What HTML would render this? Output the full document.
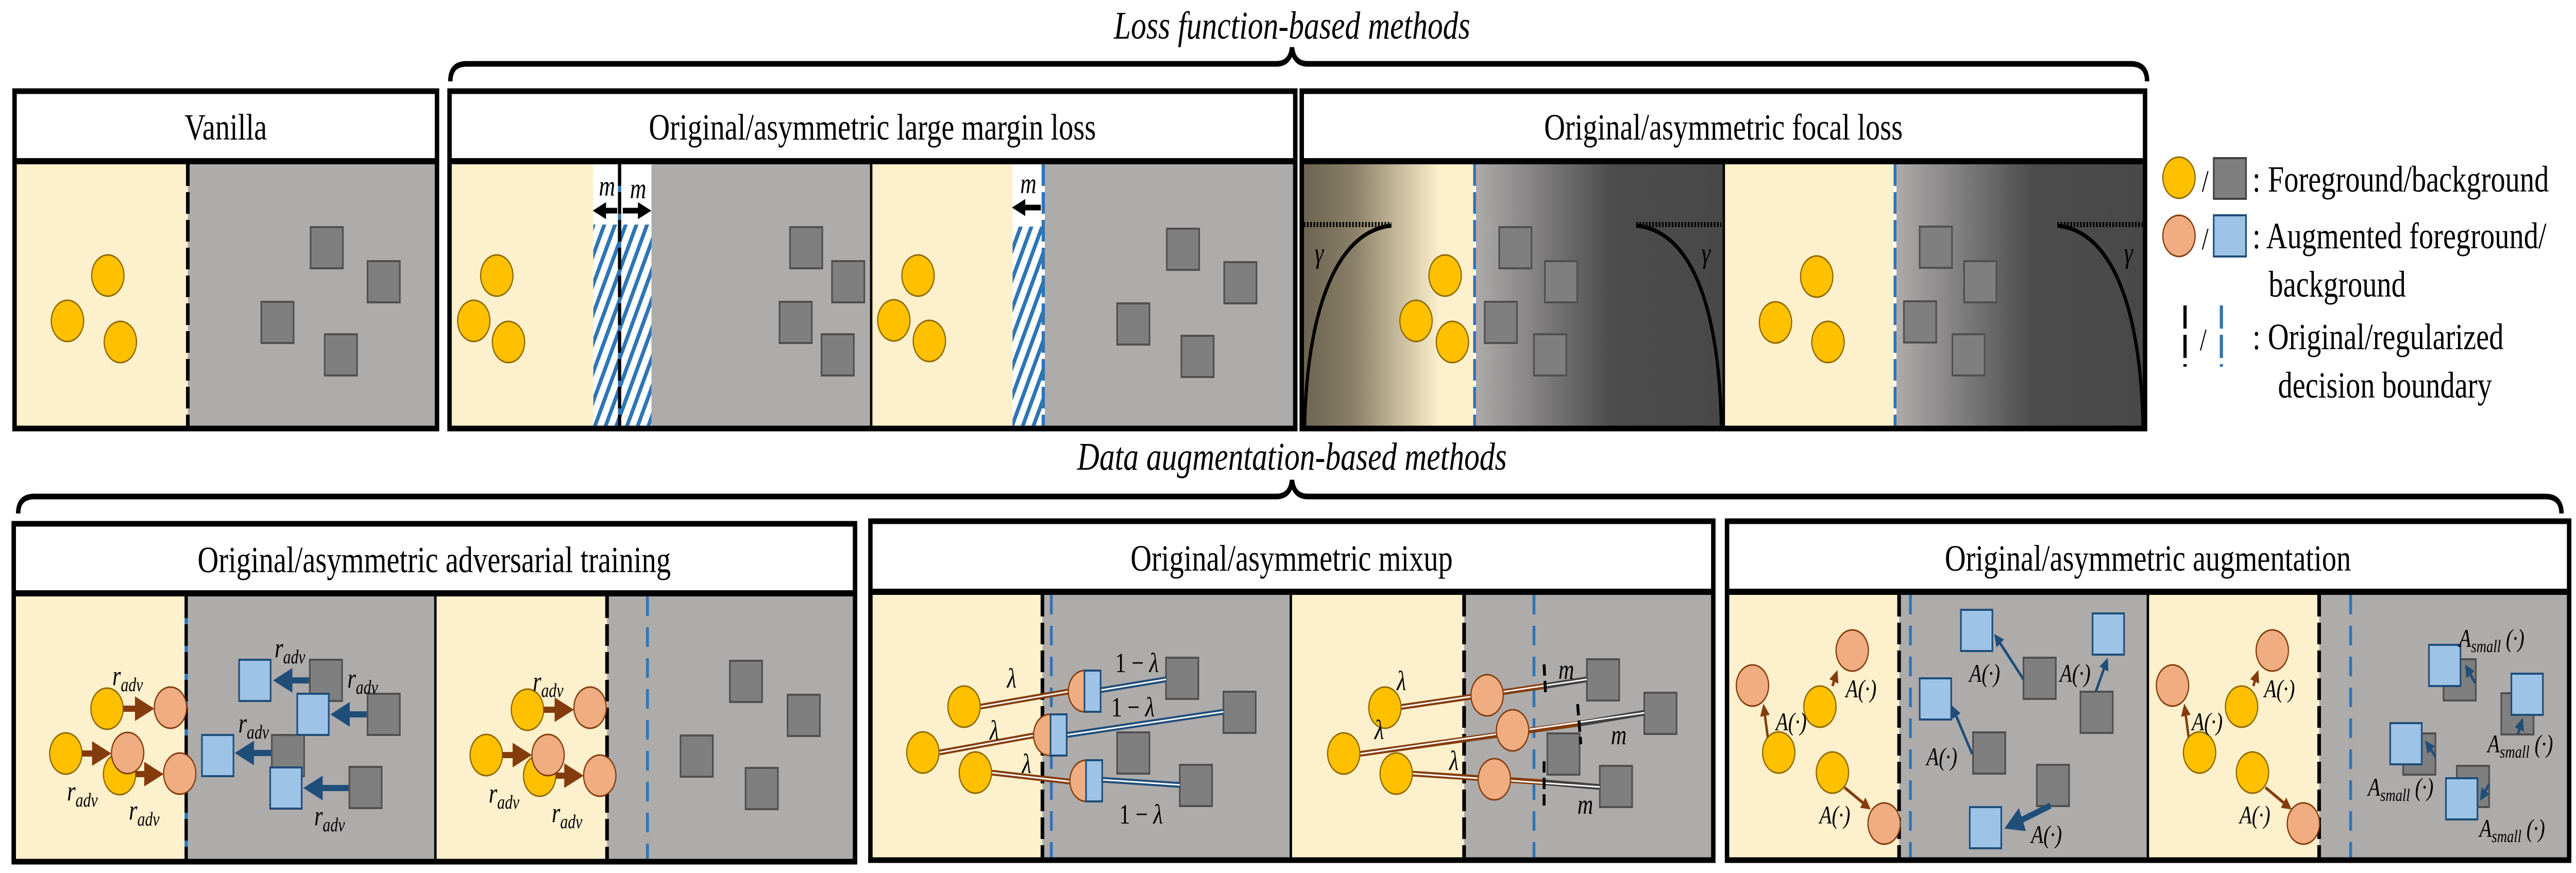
<!DOCTYPE html>
<html><head><meta charset="utf-8"><style>
html,body{margin:0;padding:0;background:#fff;overflow:hidden;width:100vw;height:100vh}
svg{display:block;width:100vw;height:100vh}
text{font-family:"Liberation Serif",serif}
</style></head><body>
<svg viewBox="0 0 6378 1695" preserveAspectRatio="none" xmlns="http://www.w3.org/2000/svg">
<defs>
<pattern id="hatch" patternUnits="userSpaceOnUse" width="24" height="24" patternTransform="rotate(25)">
<rect width="24" height="24" fill="#fff"/><rect x="0" y="0" width="9" height="24" fill="#2e75b6"/>
</pattern>
<linearGradient id="gY" x1="0" x2="1"><stop offset="0" stop-color="#6b6350"/><stop offset="0.3" stop-color="#8a8068"/><stop offset="0.8" stop-color="#fdf0cc"/><stop offset="1" stop-color="#fdf0cc"/></linearGradient>
<linearGradient id="gG" x1="0" x2="1"><stop offset="0" stop-color="#aeabab"/><stop offset="0.55" stop-color="#4c4c4c"/><stop offset="1" stop-color="#484848"/></linearGradient>
<marker id="ab" markerWidth="4" markerHeight="4" refX="2" refY="2" orient="auto" markerUnits="strokeWidth"><path d="M0,0 L4,2 L0,4 z" fill="#843c0c"/></marker>
<marker id="au" markerWidth="4" markerHeight="4" refX="2" refY="2" orient="auto" markerUnits="strokeWidth"><path d="M0,0 L4,2 L0,4 z" fill="#1f4e79"/></marker>
<marker id="ak" markerWidth="3" markerHeight="3" refX="1.5" refY="1.5" orient="auto" markerUnits="strokeWidth"><path d="M0,0 L3,1.5 L0,3 z" fill="#000"/></marker>
<g id="Y"><circle r="40" fill="#ffc000" stroke="#8f6a00" stroke-width="3"/></g>
<g id="P"><circle r="40" fill="#f0ad82" stroke="#843c0c" stroke-width="3"/></g>
<g id="S"><rect width="80" height="80" fill="#7f7f7f" stroke="#505050" stroke-width="4"/></g>
<g id="B"><rect width="78" height="80" fill="#9dc3e6" stroke="#1f4e79" stroke-width="4"/></g>
</defs>

<text x="3199" y="75" font-size="76" font-style="italic" text-anchor="middle">Loss  function-based methods</text>
<path d="M1115,158 Q1115,124 1155,124 L3160,124 Q3195,124 3199,92 Q3203,124 3238,124 L5276,124 Q5316,124 5316,158" fill="none" stroke="#000" stroke-width="11"/>

<rect x="36" y="319" width="429" height="513" fill="#fdf0cc"/>
<rect x="465" y="319" width="617" height="513" fill="#aeabab"/>
<line x1="465" y1="319" x2="465" y2="832" stroke="#000" stroke-width="9" stroke-dasharray="42 12"/>
<use href="#Y" x="267" y="535"/><use href="#Y" x="167" y="623"/><use href="#Y" x="298" y="664"/>
<use href="#S" x="769" y="441"/><use href="#S" x="910" y="507"/><use href="#S" x="647" y="586"/><use href="#S" x="804" y="649"/>
<rect x="36" y="177" width="1046" height="655" fill="none" stroke="#000" stroke-width="11"/>
<line x1="36" y1="313" x2="1082" y2="313" stroke="#000" stroke-width="12"/>
<text x="559" y="271" font-size="72" text-anchor="middle">Vanilla</text>

<rect x="1113" y="319" width="356" height="513" fill="#fdf0cc"/>
<rect x="1469" y="436" width="144" height="396" fill="url(#hatch)"/>
<rect x="1469" y="319" width="144" height="117" fill="#fff"/>
<rect x="1613" y="319" width="544" height="513" fill="#aeabab"/>
<line x1="1534" y1="319" x2="1534" y2="832" stroke="#2e75b6" stroke-width="8"/>
<line x1="1534" y1="319" x2="1534" y2="832" stroke="#000" stroke-width="8" stroke-dasharray="42 12"/>
<rect x="2157" y="319" width="350" height="513" fill="#fdf0cc"/>
<rect x="2507" y="440" width="76" height="392" fill="url(#hatch)"/>
<rect x="2507" y="319" width="76" height="121" fill="#fff"/>
<rect x="2583" y="319" width="624" height="513" fill="#aeabab"/>
<line x1="2583" y1="319" x2="2583" y2="832" stroke="#2e75b6" stroke-width="8"/>
<line x1="2583" y1="319" x2="2583" y2="832" stroke="#fff" stroke-width="8" stroke-dasharray="0 42 12 0"/>
<line x1="2157" y1="319" x2="2157" y2="832" stroke="#000" stroke-width="6"/>
<text x="1503" y="380" font-size="56" font-style="italic" text-anchor="middle">m</text>
<text x="1580" y="385" font-size="56" font-style="italic" text-anchor="middle">m</text>
<line x1="1528" y1="409" x2="1484" y2="409" stroke="#000" stroke-width="11" marker-end="url(#ak)"/>
<line x1="1542" y1="409" x2="1596" y2="409" stroke="#000" stroke-width="11" marker-end="url(#ak)"/>
<text x="2546" y="375" font-size="56" font-style="italic" text-anchor="middle">m</text>
<line x1="2577" y1="403" x2="2522" y2="403" stroke="#000" stroke-width="11" marker-end="url(#ak)"/>
<use href="#Y" x="1230" y="535"/><use href="#Y" x="1173" y="623"/><use href="#Y" x="1259" y="664"/>
<use href="#S" x="1956" y="441"/><use href="#S" x="2060" y="507"/><use href="#S" x="1930" y="586"/><use href="#S" x="2034" y="649"/>
<use href="#Y" x="2273" y="535"/><use href="#Y" x="2213" y="622"/><use href="#Y" x="2301" y="662"/>
<use href="#S" x="2889" y="444"/><use href="#S" x="3031" y="509"/><use href="#S" x="2766" y="589"/><use href="#S" x="2925" y="652"/>
<rect x="1113" y="177" width="2094" height="655" fill="none" stroke="#000" stroke-width="11"/>
<line x1="1113" y1="313" x2="3207" y2="313" stroke="#000" stroke-width="12"/>
<text x="2160" y="271" font-size="72" text-anchor="middle">Original/asymmetric large margin loss</text>

<rect x="3223" y="319" width="428" height="513" fill="url(#gY)"/>
<rect x="3651" y="319" width="617" height="513" fill="url(#gG)"/>
<rect x="4268" y="319" width="424" height="513" fill="#fdf0cc"/>
<rect x="4692" y="319" width="619" height="513" fill="url(#gG)"/>
<line x1="3651" y1="319" x2="3651" y2="832" stroke="#2e75b6" stroke-width="7"/>
<line x1="3651" y1="319" x2="3651" y2="832" stroke="#fff" stroke-width="7" stroke-dasharray="0 42 12 0"/>
<line x1="4692" y1="319" x2="4692" y2="832" stroke="#2e75b6" stroke-width="7"/>
<line x1="4692" y1="319" x2="4692" y2="832" stroke="#fff" stroke-width="7" stroke-dasharray="0 42 12 0"/>
<line x1="4268" y1="319" x2="4268" y2="832" stroke="#000" stroke-width="6"/>
<g fill="none" stroke="#000">
<line x1="3228" y1="436" x2="3445" y2="436" stroke-width="10" stroke-dasharray="4 4"/>
<path d="M3445,438 C3300,450 3235,620 3230,832" stroke-width="8"/>
<line x1="4051" y1="436" x2="4262" y2="436" stroke-width="10" stroke-dasharray="4 4"/>
<path d="M4051,438 C4200,450 4258,620 4262,832" stroke-width="8"/>
<line x1="5094" y1="436" x2="5305" y2="436" stroke-width="10" stroke-dasharray="4 4"/>
<path d="M5094,438 C5240,450 5302,620 5306,832" stroke-width="8"/>
</g>
<text x="3266" y="510" font-size="56" font-style="italic" text-anchor="middle">γ</text>
<text x="4224" y="510" font-size="56" font-style="italic" text-anchor="middle">γ</text>
<text x="5270" y="510" font-size="56" font-style="italic" text-anchor="middle">γ</text>
<use href="#Y" x="3578" y="535"/><use href="#Y" x="3506" y="623"/><use href="#Y" x="3596" y="664"/>
<use href="#S" x="3712" y="441"/><use href="#S" x="3825" y="507"/><use href="#S" x="3676" y="586"/><use href="#S" x="3798" y="649"/>
<use href="#Y" x="4498" y="537"/><use href="#Y" x="4396" y="626"/><use href="#Y" x="4526" y="664"/>
<use href="#S" x="4753" y="440"/><use href="#S" x="4863" y="507"/><use href="#S" x="4714" y="585"/><use href="#S" x="4834" y="649"/>
<rect x="3223" y="177" width="2088" height="655" fill="none" stroke="#000" stroke-width="11"/>
<line x1="3223" y1="313" x2="5311" y2="313" stroke="#000" stroke-width="12"/>
<text x="4267" y="271" font-size="72" text-anchor="middle">Original/asymmetric focal loss</text>

<use href="#Y" x="5395" y="345"/>
<text x="5460" y="372" font-size="60" text-anchor="middle">/</text>
<rect x="5481" y="307" width="80" height="79" fill="#7f7f7f" stroke="#404040" stroke-width="4"/>
<text x="5577" y="372" font-size="72">: Foreground/background</text>
<use href="#P" x="5395" y="458"/>
<text x="5460" y="484" font-size="60" text-anchor="middle">/</text>
<rect x="5481" y="418" width="80" height="80" fill="#9dc3e6" stroke="#1f4e79" stroke-width="4"/>
<text x="5577" y="482" font-size="72">: Augmented foreground/</text>
<text x="5617" y="576" font-size="72">background</text>
<line x1="5410" y1="593" x2="5410" y2="712" stroke="#000" stroke-width="8" stroke-dasharray="45 12"/>
<text x="5455" y="680" font-size="60" text-anchor="middle">/</text>
<line x1="5500" y1="593" x2="5500" y2="712" stroke="#2e75b6" stroke-width="8" stroke-dasharray="45 12"/>
<text x="5577" y="678" font-size="72">: Original/regularized</text>
<text x="5640" y="772" font-size="72">decision boundary</text>

<text x="3199" y="912" font-size="76" font-style="italic" text-anchor="middle">Data augmentation-based methods</text>
<path d="M45,997 Q45,964 85,964 L3160,964 Q3195,964 3199,932 Q3203,964 3238,964 L6302,964 Q6342,964 6342,997" fill="none" stroke="#000" stroke-width="11"/>

<rect x="34" y="1158" width="425" height="515" fill="#fdf0cc"/>
<rect x="463" y="1158" width="615" height="515" fill="#aeabab"/>
<line x1="461" y1="1158" x2="461" y2="1673" stroke="#2e75b6" stroke-width="8"/>
<line x1="461" y1="1158" x2="461" y2="1673" stroke="#000" stroke-width="8" stroke-dasharray="42 12"/>
<rect x="1078" y="1158" width="425" height="515" fill="#fdf0cc"/>
<rect x="1503" y="1158" width="614" height="515" fill="#aeabab"/>
<line x1="1503" y1="1158" x2="1503" y2="1673" stroke="#000" stroke-width="9" stroke-dasharray="42 12"/>
<line x1="1603" y1="1158" x2="1603" y2="1673" stroke="#2e75b6" stroke-width="7" stroke-dasharray="38 22"/>
<line x1="1078" y1="1158" x2="1078" y2="1673" stroke="#000" stroke-width="6"/>
<use href="#S" x="767" y="1281"/><use href="#S" x="910" y="1347"/><use href="#S" x="673" y="1427"/><use href="#S" x="865" y="1489"/>
<use href="#B" x="592" y="1281"/><use href="#B" x="736" y="1347"/><use href="#B" x="500" y="1427"/><use href="#B" x="669" y="1490"/>
<g stroke="#1f4e79" stroke-width="12" marker-end="url(#au)">
<line x1="765" y1="1321" x2="700" y2="1321"/>
<line x1="908" y1="1387" x2="842" y2="1387"/>
<line x1="671" y1="1462" x2="605" y2="1462"/>
<line x1="863" y1="1530" x2="775" y2="1530"/>
</g>
<use href="#Y" x="265" y="1376"/><use href="#Y" x="163" y="1463"/><use href="#Y" x="296" y="1503"/>
<use href="#P" x="422" y="1374"/><use href="#P" x="316" y="1462"/><use href="#P" x="445" y="1502"/>
<g stroke="#843c0c" stroke-width="12" marker-end="url(#ab)">
<line x1="305" y1="1376" x2="358" y2="1376"/>
<line x1="203" y1="1463" x2="252" y2="1463"/>
<line x1="336" y1="1503" x2="381" y2="1503"/>
</g>
<use href="#Y" x="1306" y="1378"/><use href="#Y" x="1204" y="1466"/><use href="#Y" x="1336" y="1506"/>
<use href="#P" x="1461" y="1374"/><use href="#P" x="1357" y="1466"/><use href="#P" x="1485" y="1506"/>
<g stroke="#843c0c" stroke-width="12" marker-end="url(#ab)">
<line x1="1346" y1="1378" x2="1397" y2="1378"/>
<line x1="1244" y1="1466" x2="1293" y2="1466"/>
<line x1="1376" y1="1506" x2="1421" y2="1506"/>
</g>
<use href="#S" x="1807" y="1283"/><use href="#S" x="1950" y="1349"/><use href="#S" x="1685" y="1428"/><use href="#S" x="1846" y="1491"/>
<g font-size="54" font-style="italic" text-anchor="middle">
<text x="316" y="1330">r<tspan font-size="38" dy="12">adv</tspan></text>
<text x="718" y="1276">r<tspan font-size="38" dy="12">adv</tspan></text>
<text x="898" y="1335">r<tspan font-size="38" dy="12">adv</tspan></text>
<text x="628" y="1422">r<tspan font-size="38" dy="12">adv</tspan></text>
<text x="204" y="1554">r<tspan font-size="38" dy="12">adv</tspan></text>
<text x="357" y="1591">r<tspan font-size="38" dy="12">adv</tspan></text>
<text x="816" y="1602">r<tspan font-size="38" dy="12">adv</tspan></text>
<text x="1357" y="1341">r<tspan font-size="38" dy="12">adv</tspan></text>
<text x="1248" y="1558">r<tspan font-size="38" dy="12">adv</tspan></text>
<text x="1404" y="1596">r<tspan font-size="38" dy="12">adv</tspan></text>
</g>
<rect x="34" y="1017" width="2083" height="656" fill="none" stroke="#000" stroke-width="11"/>
<line x1="34" y1="1152" x2="2117" y2="1152" stroke="#000" stroke-width="12"/>
<text x="1075" y="1111" font-size="72" text-anchor="middle">Original/asymmetric adversarial training</text>

<rect x="2155" y="1155" width="426" height="515" fill="#fdf0cc"/>
<rect x="2581" y="1155" width="615" height="515" fill="#aeabab"/>
<line x1="2581" y1="1155" x2="2581" y2="1670" stroke="#000" stroke-width="9" stroke-dasharray="42 12"/>
<line x1="2603" y1="1155" x2="2603" y2="1670" stroke="#2e75b6" stroke-width="7" stroke-dasharray="38 22"/>
<rect x="3196" y="1155" width="429" height="515" fill="#fdf0cc"/>
<rect x="3625" y="1155" width="617" height="515" fill="#aeabab"/>
<line x1="3625" y1="1155" x2="3625" y2="1670" stroke="#000" stroke-width="9" stroke-dasharray="42 12"/>
<line x1="3798" y1="1155" x2="3798" y2="1670" stroke="#2e75b6" stroke-width="7" stroke-dasharray="38 22"/>
<line x1="3196" y1="1155" x2="3196" y2="1670" stroke="#000" stroke-width="6"/>
<use href="#S" x="2887" y="1277"/><use href="#S" x="3029" y="1343"/><use href="#S" x="2766" y="1422"/><use href="#S" x="2921" y="1485"/>
<g stroke-linecap="butt">
<g stroke="#843c0c" stroke-width="11"><line x1="2428" y1="1372" x2="2650" y2="1342"/><line x1="2326" y1="1461" x2="2565" y2="1427"/><line x1="2454" y1="1500" x2="2655" y2="1518"/></g>
<g stroke="#fff" stroke-width="3"><line x1="2428" y1="1372" x2="2650" y2="1342"/><line x1="2326" y1="1461" x2="2565" y2="1427"/><line x1="2454" y1="1500" x2="2655" y2="1518"/></g>
<g stroke="#1f4e79" stroke-width="11"><line x1="2725" y1="1340" x2="2887" y2="1319"/><line x1="2642" y1="1427" x2="3029" y2="1382"/><line x1="2729" y1="1514" x2="2921" y2="1524"/></g>
<g stroke="#fff" stroke-width="3"><line x1="2725" y1="1340" x2="2887" y2="1319"/><line x1="2642" y1="1427" x2="3029" y2="1382"/><line x1="2729" y1="1514" x2="2921" y2="1524"/></g>
</g>
<use href="#Y" x="2387" y="1372"/><use href="#Y" x="2285" y="1461"/><use href="#Y" x="2415" y="1500"/>
<use href="#P" x="2685" y="1342"/><use href="#P" x="2599" y="1427"/><use href="#P" x="2689" y="1516"/>
<rect x="2685" y="1302" width="40" height="80" fill="#9dc3e6" stroke="#1f4e79" stroke-width="4"/>
<rect x="2601" y="1387" width="40" height="80" fill="#9dc3e6" stroke="#1f4e79" stroke-width="4"/>
<rect x="2689" y="1476" width="40" height="80" fill="#9dc3e6" stroke="#1f4e79" stroke-width="4"/>
<g font-size="54" font-style="italic" text-anchor="middle">
<text x="2505" y="1335">λ</text><text x="2462" y="1436">λ</text><text x="2542" y="1501">λ</text>
<text x="2815" y="1305"><tspan font-style="normal">1 − </tspan>λ</text>
<text x="2805" y="1391"><tspan font-style="normal">1 − </tspan>λ</text>
<text x="2825" y="1599"><tspan font-style="normal">1 − </tspan>λ</text>
</g>
<use href="#S" x="3929" y="1280"/><use href="#S" x="4071" y="1345"/><use href="#S" x="3831" y="1424"/><use href="#S" x="3961" y="1487"/>
<g stroke-linecap="butt">
<g stroke="#843c0c" stroke-width="11"><line x1="3466" y1="1373" x2="3825" y2="1332"/><line x1="3364" y1="1464" x2="3910" y2="1405"/><line x1="3496" y1="1502" x2="3825" y2="1519"/></g>
<g stroke="#404040" stroke-width="11"><line x1="3825" y1="1332" x2="3929" y2="1319"/><line x1="3910" y1="1405" x2="4071" y2="1384"/><line x1="3825" y1="1519" x2="3961" y2="1528"/></g>
<g stroke="#fff" stroke-width="3"><line x1="3466" y1="1373" x2="3929" y2="1319"/><line x1="3364" y1="1464" x2="4071" y2="1384"/><line x1="3496" y1="1502" x2="3961" y2="1528"/></g>
</g>
<use href="#Y" x="3429" y="1374"/><use href="#Y" x="3327" y="1463"/><use href="#Y" x="3457" y="1502"/>
<use href="#P" x="3682" y="1350"/><use href="#P" x="3745" y="1418"/><use href="#P" x="3700" y="1513"/>
<g stroke="#000" stroke-width="7" stroke-dasharray="22 10">
<line x1="3823" y1="1290" x2="3827" y2="1352"/><line x1="3906" y1="1367" x2="3914" y2="1445"/><line x1="3823" y1="1478" x2="3823" y2="1564"/>
</g>
<g font-size="54" font-style="italic" text-anchor="middle">
<text x="3878" y="1318">m</text><text x="4008" y="1445">m</text><text x="3925" y="1580">m</text>
<text x="3470" y="1340">λ</text><text x="3415" y="1435">λ</text><text x="3600" y="1495">λ</text>
</g>
<rect x="2155" y="1012" width="2087" height="658" fill="none" stroke="#000" stroke-width="11"/>
<line x1="2155" y1="1149" x2="4242" y2="1149" stroke="#000" stroke-width="12"/>
<text x="3198" y="1108" font-size="72" text-anchor="middle">Original/asymmetric mixup</text>

<rect x="4276" y="1155" width="426" height="515" fill="#fdf0cc"/>
<rect x="4702" y="1155" width="616" height="515" fill="#aeabab"/>
<line x1="4702" y1="1155" x2="4702" y2="1670" stroke="#000" stroke-width="9" stroke-dasharray="42 12"/>
<line x1="4730" y1="1155" x2="4730" y2="1670" stroke="#2e75b6" stroke-width="7" stroke-dasharray="38 22"/>
<rect x="5318" y="1155" width="424" height="515" fill="#fdf0cc"/>
<rect x="5742" y="1155" width="619" height="515" fill="#aeabab"/>
<line x1="5742" y1="1155" x2="5742" y2="1670" stroke="#000" stroke-width="9" stroke-dasharray="42 12"/>
<line x1="5820" y1="1155" x2="5820" y2="1670" stroke="#2e75b6" stroke-width="7" stroke-dasharray="38 22"/>
<line x1="5318" y1="1155" x2="5318" y2="1670" stroke="#000" stroke-width="6"/>
<use href="#Y" x="4404" y="1461"/><use href="#Y" x="4506" y="1372"/><use href="#Y" x="4537" y="1500"/>
<use href="#P" x="4339" y="1331"/><use href="#P" x="4586" y="1263"/><use href="#P" x="4665" y="1599"/>
<g stroke="#843c0c" stroke-width="6" marker-end="url(#ab)">
<line x1="4377" y1="1432" x2="4368" y2="1378"/><line x1="4537" y1="1332" x2="4545" y2="1312"/><line x1="4567" y1="1529" x2="4622" y2="1565"/>
<line x1="5419" y1="1432" x2="5410" y2="1378"/><line x1="5579" y1="1332" x2="5587" y2="1312"/><line x1="5609" y1="1529" x2="5664" y2="1565"/>
</g>
<use href="#S" x="5010" y="1277"/><use href="#S" x="5151" y="1343"/><use href="#S" x="4885" y="1422"/><use href="#S" x="5043" y="1485"/>
<use href="#B" x="4855" y="1184"/><use href="#B" x="5181" y="1191"/><use href="#B" x="4753" y="1317"/><use href="#B" x="4877" y="1567"/>
<g stroke="#1f4e79" stroke-width="6" marker-end="url(#au)">
<line x1="5010" y1="1319" x2="4945" y2="1240"/><line x1="5189" y1="1343" x2="5214" y2="1288"/><line x1="4883" y1="1464" x2="4838" y2="1380"/>
</g>
<line x1="5077" y1="1564" x2="4985" y2="1600" stroke="#1f4e79" stroke-width="12" marker-end="url(#au)"/>
<use href="#Y" x="5446" y="1461"/><use href="#Y" x="5550" y="1372"/><use href="#Y" x="5577" y="1500"/>
<use href="#P" x="5379" y="1331"/><use href="#P" x="5626" y="1263"/><use href="#P" x="5703" y="1599"/>
<use href="#S" x="6050" y="1280"/><use href="#S" x="6193" y="1346"/><use href="#S" x="5950" y="1424"/><use href="#S" x="6083" y="1487"/>
<use href="#B" x="6014" y="1252"/><use href="#B" x="6218" y="1308"/><use href="#B" x="5918" y="1404"/><use href="#B" x="6056" y="1511"/>
<g stroke="#1f4e79" stroke-width="6" marker-end="url(#au)">
<line x1="6128" y1="1326" x2="6110" y2="1300"/><line x1="6234" y1="1426" x2="6242" y2="1405"/><line x1="6030" y1="1469" x2="6012" y2="1447"/><line x1="6163" y1="1522" x2="6147" y2="1545"/>
</g>
<g font-size="50" font-style="italic" text-anchor="middle">
<text x="4435" y="1418">A(·)</text><text x="4608" y="1354">A(·)</text><text x="4543" y="1599">A(·)</text>
<text x="4914" y="1324">A(·)</text><text x="5138" y="1324">A(·)</text><text x="4808" y="1486">A(·)</text><text x="5067" y="1637">A(·)</text>
<text x="5465" y="1418">A(·)</text><text x="5644" y="1354">A(·)</text><text x="5583" y="1599">A(·)</text>
<text x="6169" y="1256">A<tspan font-size="34" dy="10">small</tspan><tspan dy="-10"> (·)</tspan></text>
<text x="6240" y="1461">A<tspan font-size="34" dy="10">small</tspan><tspan dy="-10"> (·)</tspan></text>
<text x="5944" y="1545">A<tspan font-size="34" dy="10">small</tspan><tspan dy="-10"> (·)</tspan></text>
<text x="6220" y="1625">A<tspan font-size="34" dy="10">small</tspan><tspan dy="-10"> (·)</tspan></text>
</g>
<rect x="4276" y="1012" width="2085" height="658" fill="none" stroke="#000" stroke-width="11"/>
<line x1="4276" y1="1149" x2="6361" y2="1149" stroke="#000" stroke-width="12"/>
<text x="5318" y="1108" font-size="72" text-anchor="middle">Original/asymmetric augmentation</text>
</svg>
</body></html>
